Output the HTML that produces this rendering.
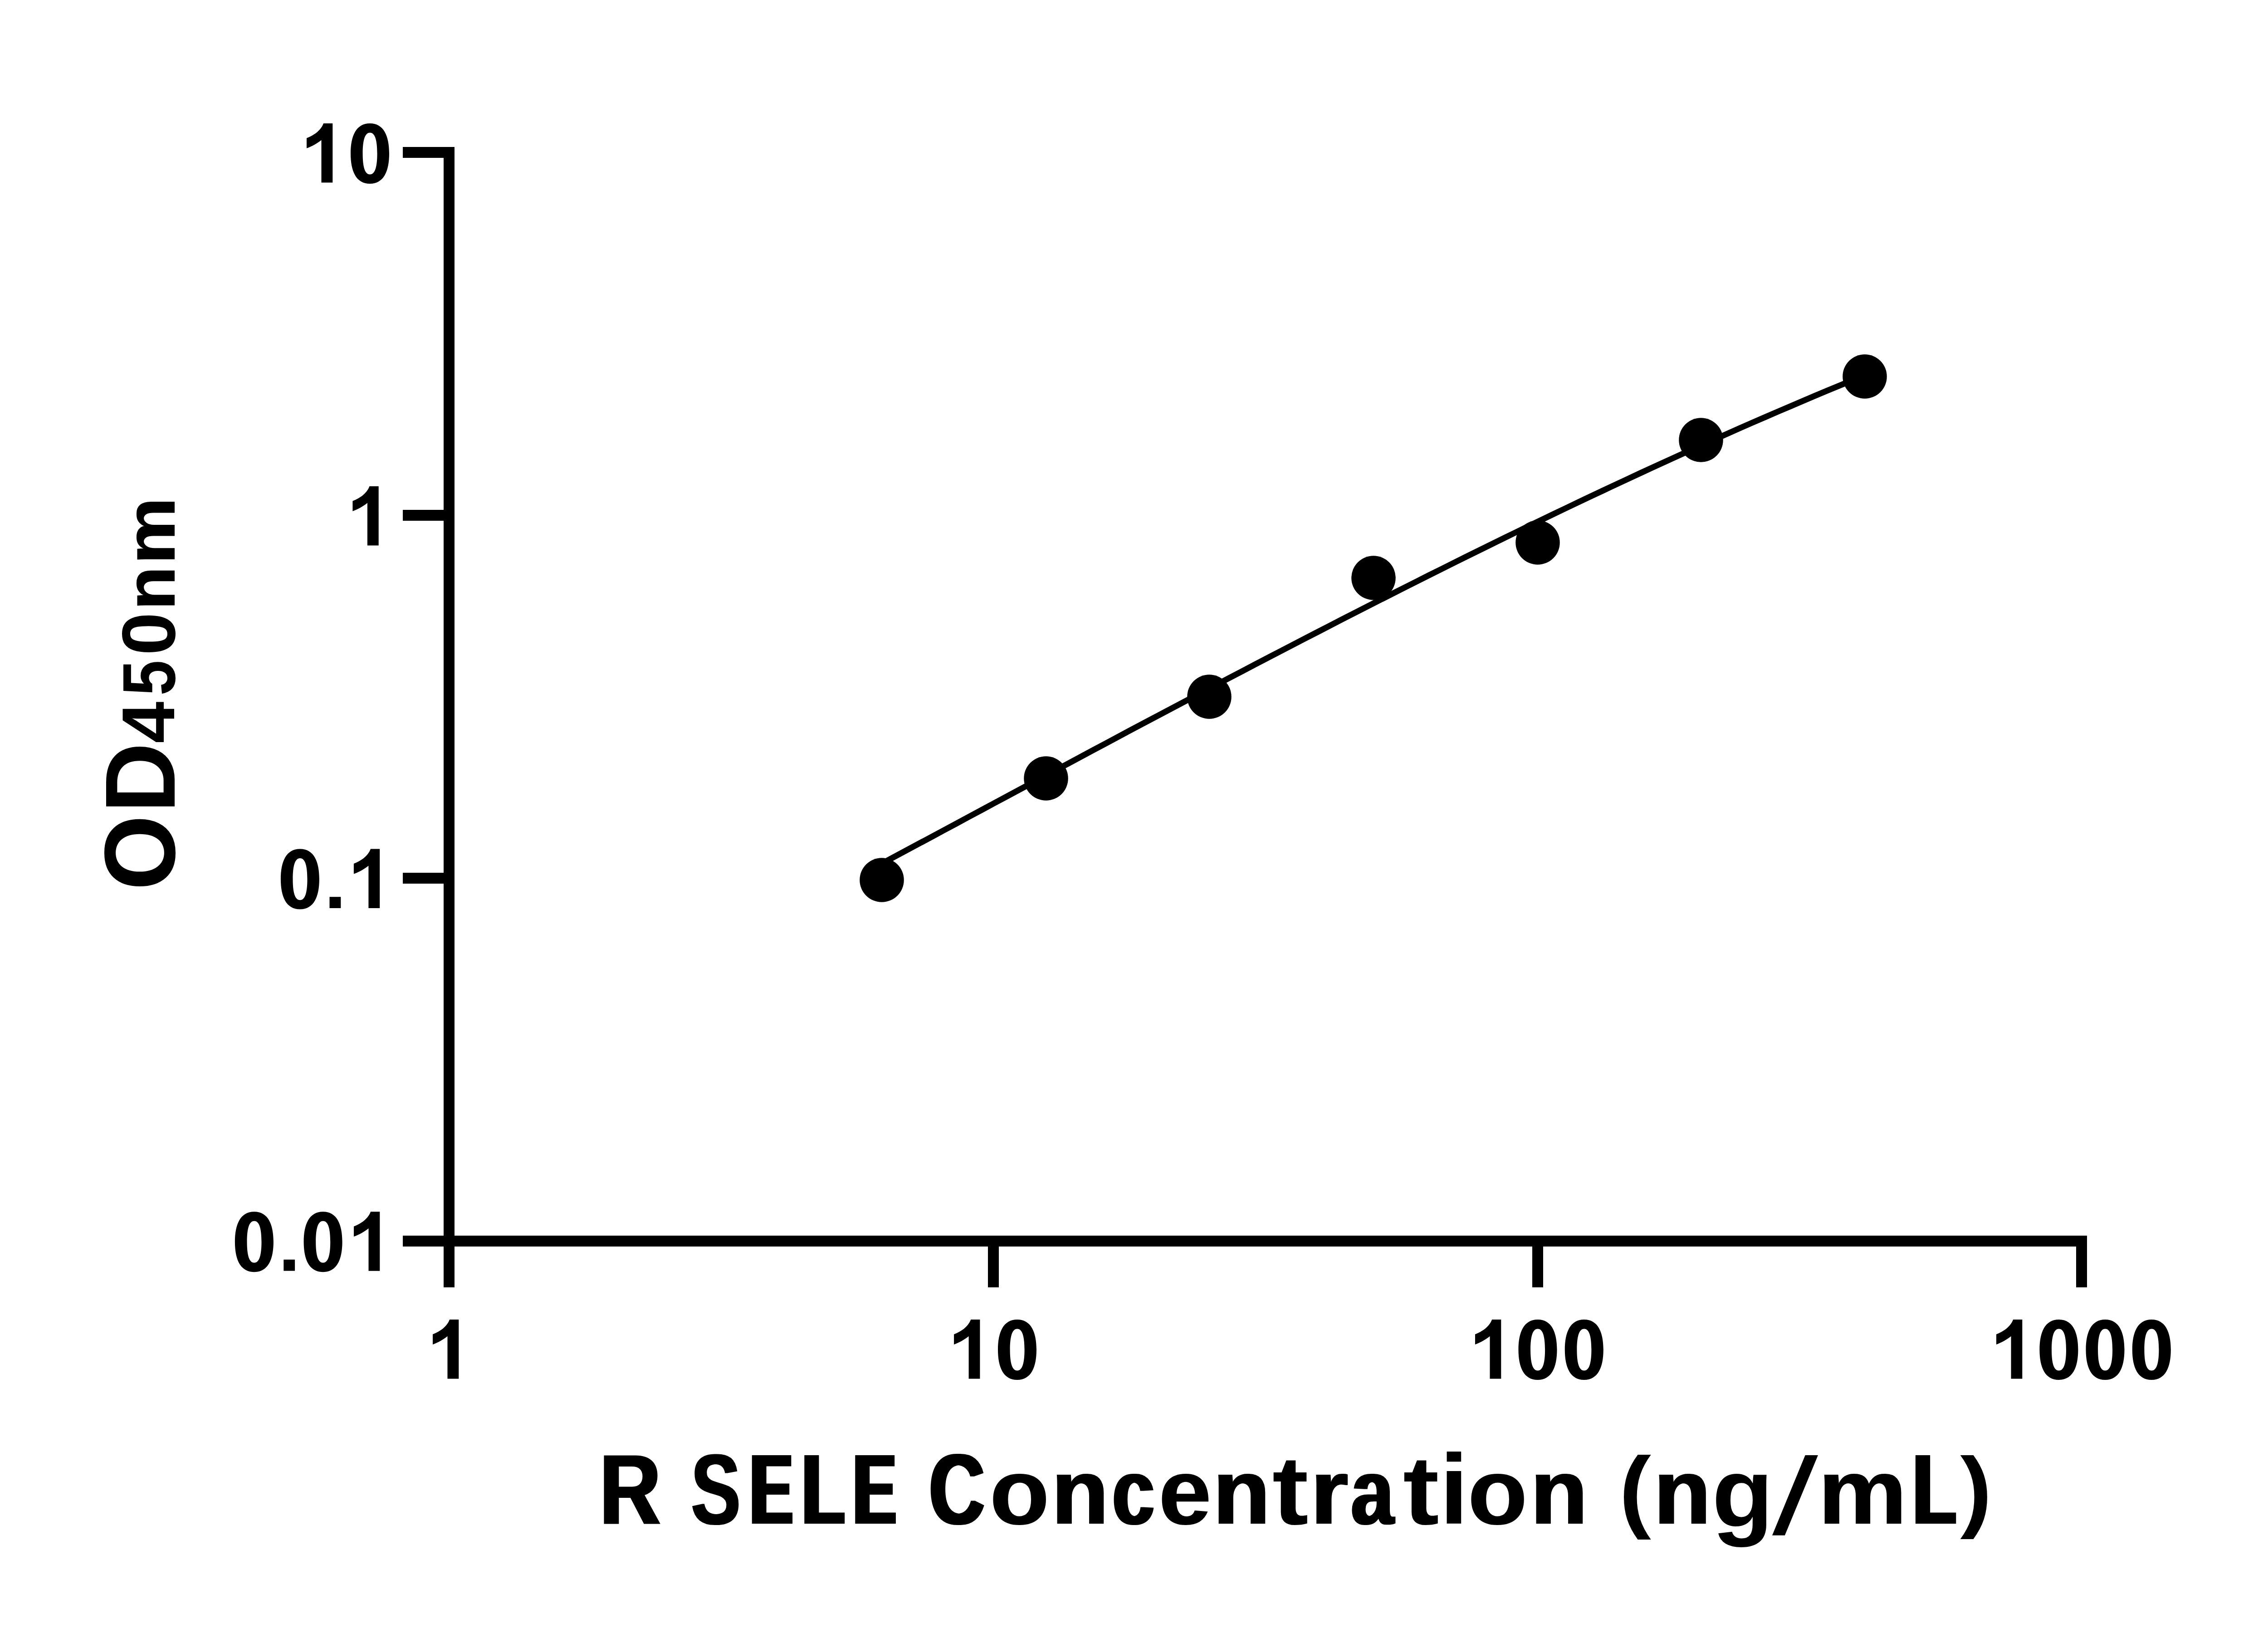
<!DOCTYPE html>
<html><head><meta charset="utf-8"><title>R SELE standard curve</title>
<style>
html,body{margin:0;padding:0;background:#fff;overflow:hidden;}
svg{display:block;}
text{font-family:"Liberation Sans",sans-serif;font-weight:bold;font-size:200px;fill:#000;}
</style></head>
<body>
<svg width="5142" height="3600" viewBox="0 0 5142 3600">
<defs>
<path id="d1" d="M37.1,0 L57.3,0 L57.3,130.5 L32.5,130.5 L32.5,36.8 C23.5,44.1 12,50.8 0,54.9 L0,32.5 C16,26.5 32,15 37.1,0 Z"/>
<path id="d0" d="M42.5,0.0 C73.1,0.0 85.0,27.93 85.0,66.5 C85.0,105.07 73.1,133.0 42.5,133.0 C11.900000000000002,133.0 0.0,105.07 0.0,66.5 C0.0,27.93 11.900000000000002,0.0 42.5,0.0 Z M42.6,20.5 C31.080000000000002,20.5 26.6,37.998999999999995 26.6,66.55 C26.6,95.101 31.080000000000002,112.6 42.6,112.6 C54.120000000000005,112.6 58.6,95.101 58.6,66.55 C58.6,37.998999999999995 54.120000000000005,20.5 42.6,20.5 Z"/>
<filter id="m2p85_0p00" x="-15%" y="-15%" width="130%" height="130%"><feMorphology operator="dilate" radius="2.85 0.00"/></filter>
<filter id="m2p00_0p00" x="-15%" y="-15%" width="130%" height="130%"><feMorphology operator="dilate" radius="2.00 0.00"/></filter>
<filter id="m6p00_0p00" x="-15%" y="-15%" width="130%" height="130%"><feMorphology operator="dilate" radius="6.00 0.00"/></filter>
<filter id="m5p00_0p00" x="-15%" y="-15%" width="130%" height="130%"><feMorphology operator="dilate" radius="5.00 0.00"/></filter>
<filter id="m3p75_0p00" x="-15%" y="-15%" width="130%" height="130%"><feMorphology operator="dilate" radius="3.75 0.00"/></filter>
<filter id="m0p70_0p00" x="-15%" y="-15%" width="130%" height="130%"><feMorphology operator="dilate" radius="0.70 0.00"/></filter>
<filter id="m1p75_0p00" x="-15%" y="-15%" width="130%" height="130%"><feMorphology operator="dilate" radius="1.75 0.00"/></filter>
<filter id="m2p75_0p00" x="-15%" y="-15%" width="130%" height="130%"><feMorphology operator="dilate" radius="2.75 0.00"/></filter>
<filter id="m1p00_0p00" x="-15%" y="-15%" width="130%" height="130%"><feMorphology operator="dilate" radius="1.00 0.00"/></filter>
<filter id="m1p50_0p00" x="-15%" y="-15%" width="130%" height="130%"><feMorphology operator="dilate" radius="1.50 0.00"/></filter>
<filter id="m3p10_0p00" x="-15%" y="-15%" width="130%" height="130%"><feMorphology operator="dilate" radius="3.10 0.00"/></filter>
<filter id="m0p65_0p00" x="-15%" y="-15%" width="130%" height="130%"><feMorphology operator="dilate" radius="0.65 0.00"/></filter>
<filter id="m4p65_0p00" x="-15%" y="-15%" width="130%" height="130%"><feMorphology operator="dilate" radius="4.65 0.00"/></filter>
<filter id="m0p00_0p75" x="-15%" y="-15%" width="130%" height="130%"><feMorphology operator="dilate" radius="0.00 0.75"/></filter>
<filter id="m0p00_0p90" x="-15%" y="-15%" width="130%" height="130%"><feMorphology operator="dilate" radius="0.00 0.90"/></filter>
</defs>
<rect x="0" y="0" width="5142" height="3600" fill="#fff"/>
<g fill="#000">
<rect x="978" y="324" width="24" height="2514"/>
<rect x="888" y="2724" width="3713" height="24"/>
<rect x="888" y="324" width="90" height="24"/>
<rect x="888" y="1124" width="90" height="24"/>
<rect x="888" y="1924" width="90" height="24"/>
<rect x="2178" y="2748" width="24" height="90"/>
<rect x="3378" y="2748" width="24" height="90"/>
<rect x="4577" y="2748" width="24" height="90"/>
</g>
<g fill="#000">
<use href="#d1" x="676" y="271.9"/>
<use href="#d0" x="773" y="271.9"/>
<use href="#d1" x="777.4" y="1072"/>
<use href="#d0" x="618.9" y="1871.6"/>
<rect x="726.5" y="1977.1999999999998" width="24.8" height="24.8"/>
<use href="#d1" x="779.9" y="1871.6"/>
<use href="#d0" x="517.9" y="2671.2"/>
<rect x="625.3" y="2776.7999999999997" width="24.8" height="24.8"/>
<use href="#d0" x="669.6" y="2671.2"/>
<use href="#d1" x="780" y="2671.2"/>
<use href="#d1" x="954" y="2909"/>
<use href="#d1" x="2103.1" y="2909"/>
<use href="#d0" x="2200" y="2909"/>
<use href="#d1" x="3252" y="2909"/>
<use href="#d0" x="3347.5" y="2909"/>
<use href="#d0" x="3449.8" y="2909"/>
<use href="#d1" x="4401" y="2909"/>
<use href="#d0" x="4496.4" y="2909"/>
<use href="#d0" x="4598.5" y="2909"/>
<use href="#d0" x="4700.8" y="2909"/>
</g>
<path d="M1944.0,1903.8 L1971.4,1889.1 L1998.9,1874.3 L2026.3,1859.6 L2053.7,1844.9 L2081.2,1830.1 L2108.6,1815.4 L2136.0,1800.6 L2163.4,1785.9 L2190.9,1771.1 L2218.3,1756.4 L2245.7,1741.7 L2273.2,1727.0 L2300.6,1712.3 L2328.0,1697.6 L2355.5,1682.9 L2382.9,1668.2 L2410.3,1653.5 L2437.7,1638.9 L2465.2,1624.3 L2492.6,1609.6 L2520.0,1595.1 L2547.5,1580.5 L2574.9,1565.9 L2602.3,1551.4 L2629.8,1536.9 L2657.2,1522.4 L2684.6,1508.0 L2712.1,1493.6 L2739.5,1479.2 L2766.9,1464.8 L2794.3,1450.5 L2821.8,1436.2 L2849.2,1422.0 L2876.6,1407.8 L2904.1,1393.6 L2931.5,1379.4 L2958.9,1365.3 L2986.4,1351.3 L3013.8,1337.3 L3041.2,1323.3 L3068.6,1309.4 L3096.1,1295.5 L3123.5,1281.7 L3150.9,1267.9 L3178.4,1254.2 L3205.8,1240.5 L3233.2,1226.9 L3260.7,1213.3 L3288.1,1199.8 L3315.5,1186.3 L3342.9,1173.0 L3370.4,1159.6 L3397.8,1146.3 L3425.2,1133.1 L3452.7,1120.0 L3480.1,1106.9 L3507.5,1093.9 L3535.0,1081.0 L3562.4,1068.1 L3589.8,1055.3 L3617.3,1042.5 L3644.7,1029.9 L3672.1,1017.3 L3699.5,1004.8 L3727.0,992.4 L3754.4,980.0 L3781.8,967.7 L3809.3,955.6 L3836.7,943.4 L3864.1,931.4 L3891.6,919.5 L3919.0,907.6 L3946.4,895.9 L3973.8,884.2 L4001.3,872.6 L4028.7,861.1 L4056.1,849.7 L4083.6,838.4 L4111.0,827.2" fill="none" stroke="#000" stroke-width="13"/>
<g fill="#000">
<circle cx="1944" cy="1940" r="48.75"/>
<circle cx="2306" cy="1716" r="48.75"/>
<circle cx="2666" cy="1536" r="48.75"/>
<circle cx="3028" cy="1274" r="48.75"/>
<circle cx="3390" cy="1196" r="48.75"/>
<circle cx="3750" cy="970" r="48.75"/>
<circle cx="4111" cy="830" r="48.75"/>
</g>
<g>
<g filter="url(#m2p85_0p00)"><text transform="matrix(0.93263,0,0,1.09886,1322.07,3359.20)">R</text></g>
<g filter="url(#m2p00_0p00)"><text transform="matrix(0.82120,0,0,1.10592,1523.27,3360.04)">S</text></g>
<g filter="url(#m6p00_0p00)"><text transform="matrix(0.68980,0,0,1.09886,1654.57,3359.20)">E</text></g>
<g filter="url(#m5p00_0p00)"><text transform="matrix(0.76873,0,0,1.09886,1768.02,3359.20)">L</text></g>
<g filter="url(#m6p00_0p00)"><text transform="matrix(0.69247,0,0,1.09886,1881.94,3359.20)">E</text></g>
<g filter="url(#m3p75_0p00)"><text transform="matrix(0.84199,0,0,1.10098,2048.64,3359.85)">C</text></g>
<g filter="url(#m0p70_0p00)"><text transform="matrix(1.07468,0,0,1.02948,2182.10,3359.99)">o</text></g>
<g filter="url(#m1p75_0p00)"><text transform="matrix(1.02918,0,0,1.02121,2318.18,3359.20)">n</text></g>
<g filter="url(#m2p75_0p00)"><text transform="matrix(0.83950,0,0,1.02948,2451.89,3359.99)">c</text></g>
<g filter="url(#m1p00_0p00)"><text transform="matrix(1.04160,0,0,1.02948,2554.46,3359.99)">e</text></g>
<g filter="url(#m1p75_0p00)"><text transform="matrix(1.03021,0,0,1.02121,2674.17,3359.20)">n</text></g>
<text transform="matrix(1.20061,0,0,1.07996,2804.87,3360.10)">t</text>
<g filter="url(#m1p50_0p00)"><text transform="matrix(1.06782,0,0,1.01657,2889.32,3359.20)">r</text></g>
<g filter="url(#m3p10_0p00)"><text transform="matrix(0.84396,0,0,1.02948,2978.45,3359.99)">a</text></g>
<text transform="matrix(1.19737,0,0,1.07996,3092.88,3360.10)">t</text>
<text transform="matrix(1.15154,0,0,1.09576,3173.42,3359.20)">i</text>
<g filter="url(#m0p70_0p00)"><text transform="matrix(1.07375,0,0,1.02948,3235.91,3359.99)">o</text></g>
<g filter="url(#m1p75_0p00)"><text transform="matrix(1.02918,0,0,1.02121,3374.18,3359.20)">n</text></g>
<text transform="matrix(1.05589,0,0,0.99772,3569.48,3352.49)">(</text>
<g filter="url(#m1p75_0p00)"><text transform="matrix(1.02814,0,0,1.02121,3646.10,3359.20)">n</text></g>
<text transform="matrix(1.10552,0,0,1.07330,3774.23,3364.81)">g</text>
<g filter="url(#m0p65_0p00)"><text transform="matrix(1.10085,0,0,1.02121,4008.14,3359.20)">m</text></g>
<g filter="url(#m4p65_0p00)"><text transform="matrix(0.77360,0,0,1.09886,4217.50,3359.20)">L</text></g>
<text transform="matrix(1.04880,0,0,0.99396,4321.60,3352.35)">)</text>
<path d="M3979.8,3207.9 L4008,3207.9 L3934.8,3384.7 L3907,3384.7 Z"/>
</g>
<g>
<g filter="url(#m0p00_0p75)"><text transform="matrix(0,-1.05278,1.10168,0,384.55,1961.79)">O</text></g>
<text transform="matrix(0,-1.07455,1.09958,0,384.60,1792.18)">D</text>
<text transform="matrix(0,-0.82611,0.82342,0,384.40,1638.40)">4</text>
<text transform="matrix(0,-0.70343,0.82622,0,384.79,1533.43)">5</text>
<text transform="matrix(0,-0.85474,0.83332,0,385.17,1444.86)">0</text>
<g filter="url(#m0p00_0p90)"><text transform="matrix(0,-0.78068,0.77519,0,384.50,1344.49)">n</text></g>
<g filter="url(#m0p00_0p75)"><text transform="matrix(0,-0.82564,0.77519,0,384.50,1243.43)">m</text></g>
</g>
</svg>
</body></html>
